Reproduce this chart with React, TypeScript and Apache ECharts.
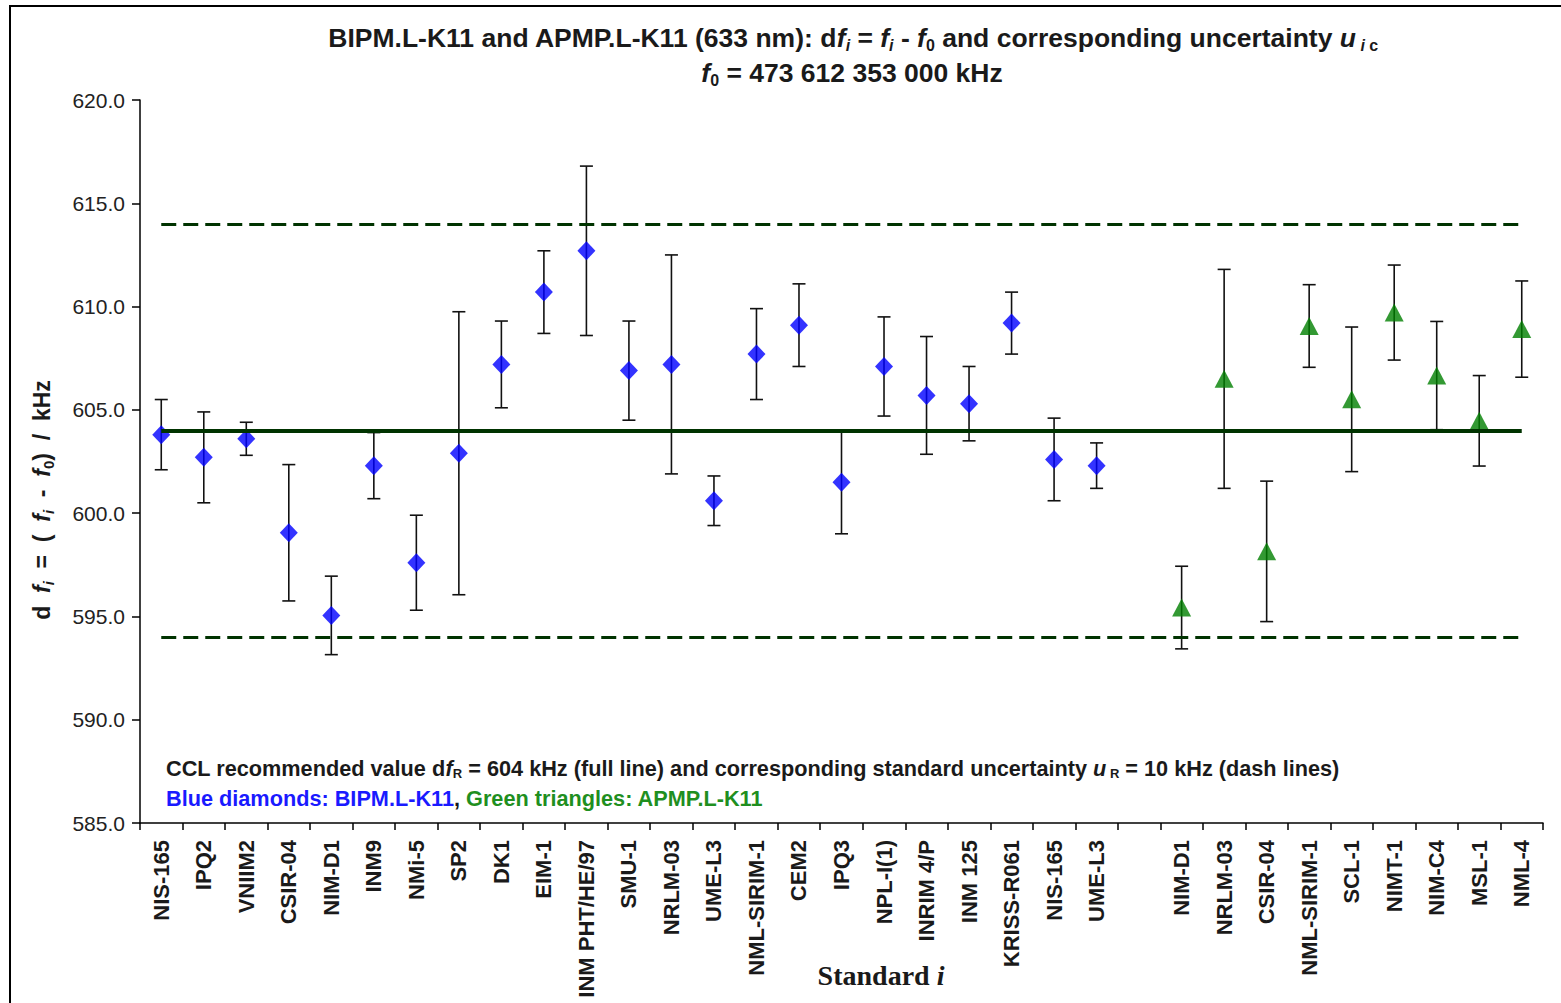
import React, { useEffect, useRef } from 'react';
import * as echarts from 'echarts';

// BIPM.L-K11 (blue diamonds)
const bipmLabels = [
  'NIS-165', 'IPQ2', 'VNIIM2', 'CSIR-04', 'NIM-D1', 'INM9', 'NMi-5', 'SP2', 'DK1', 'EIM-1',
  'INM PHT/HE/97', 'SMU-1', 'NRLM-03', 'UME-L3', 'NML-SIRIM-1', 'CEM2', 'IPQ3', 'NPL-I(1)',
  'INRIM 4/P', 'INM 125', 'KRISS-R061', 'NIS-165', 'UME-L3',
];
const bipmValues = [
  603.8, 602.7, 603.6, 599.05, 595.05, 602.3, 597.6, 602.9, 607.2, 610.7,
  612.7, 606.9, 607.2, 600.6, 607.7, 609.1, 601.5, 607.1,
  605.7, 605.3, 609.2, 602.6, 602.3,
];
const bipmUnc = [
  1.7, 2.2, 0.8, 3.3, 1.9, 1.6, 2.3, 6.85, 2.1, 2.0,
  4.1, 2.4, 5.3, 1.2, 2.2, 2.0, 2.5, 2.4,
  2.85, 1.8, 1.5, 2.0, 1.1,
];

// APMP.L-K11 (green triangles)
const apmpLabels = ['NIM-D1', 'NRLM-03', 'CSIR-04', 'NML-SIRIM-1', 'SCL-1', 'NIMT-1', 'NIM-C4', 'MSL-1', 'NML-4'];
const apmpValues = [595.43, 606.5, 598.15, 609.06, 605.51, 609.71, 606.66, 604.47, 608.91];
const apmpUnc = [2.0, 5.3, 3.4, 2.0, 3.5, 2.3, 2.62, 2.19, 2.33];

// CCL recommended value and its standard uncertainty
const refValue = 604;
const refUnc = 10;

const yMin = 585;
const yMax = 620;
const yStep = 5;

const SANS = '"Liberation Sans", Arial, sans-serif';
const SERIF = '"Liberation Serif", "Times New Roman", serif';

function richStyles(size: number, subSize: number, subPad: number, color: string) {
  const base = { fontFamily: SANS, fontSize: size, fontWeight: 'bold' as const, fill: color, verticalAlign: 'top' as const };
  const sub = { fontFamily: SANS, fontSize: subSize, fontWeight: 'bold' as const, fill: color, verticalAlign: 'top' as const, padding: [subPad, 0, 0, 0] };
  return {
    n: base,
    i: { ...base, fontStyle: 'italic' as const },
    s: sub,
    si: { ...sub, fontStyle: 'italic' as const },
  };
}

export default function App() {
  const ref = useRef<HTMLDivElement>(null);

  useEffect(() => {
    if (!ref.current) return;
    const chart = echarts.init(ref.current, null, { renderer: 'svg' });

    const categories = [...bipmLabels, '', ...apmpLabels];
    const apmpOffset = bipmLabels.length + 1;
    const lastIdx = categories.length - 1;

    const bipmPts = bipmValues.map((v, i) => [i, v]);
    const apmpPts = apmpValues.map((v, i) => [apmpOffset + i, v]);
    const bars = [
      ...bipmValues.map((v, i) => [i, v - bipmUnc[i], v + bipmUnc[i]]),
      ...apmpValues.map((v, i) => [apmpOffset + i, v - apmpUnc[i], v + apmpUnc[i]]),
    ];

    const textColor = '#1a1a1a';

    const option: any = {
      animation: false,
      backgroundColor: '#ffffff',
      grid: { left: 140, top: 100, width: 1403, height: 723, containLabel: false },
      xAxis: {
        type: 'category',
        data: categories,
        boundaryGap: true,
        axisLine: { show: true, lineStyle: { color: '#000', width: 1.5 } },
        axisTick: { show: true, interval: 0, length: 7, lineStyle: { color: '#000', width: 1.5 } },
        axisLabel: {
          interval: 0,
          rotate: 90,
          margin: 17,
          fontFamily: SANS,
          fontSize: 22,
          fontWeight: 'bold',
          color: textColor,
        },
        splitLine: { show: false },
      },
      yAxis: {
        type: 'value',
        min: yMin,
        max: yMax,
        interval: yStep,
        axisLine: { show: true, lineStyle: { color: '#000', width: 1.5 } },
        axisTick: { show: true, length: 8, lineStyle: { color: '#000', width: 1.5 } },
        axisLabel: {
          margin: 15,
          fontFamily: SANS,
          fontSize: 21,
          color: '#222',
          formatter: (v: number) => v.toFixed(1),
        },
        splitLine: { show: false },
      },
      series: [
        {
          type: 'custom',
          name: 'uncertainty',
          z: 2,
          silent: true,
          data: bars,
          encode: { x: 0, y: [1, 2] },
          renderItem: (params: any, api: any) => {
            const x = api.value(0);
            const lo = api.value(1);
            const hi = api.value(2);
            const pHi = api.coord([x, hi]);
            const pLo = api.coord([x, lo]);
            const hw = 6.5;
            const st = { stroke: '#111', lineWidth: 1.6 };
            return {
              type: 'group',
              children: [
                { type: 'line', shape: { x1: pHi[0], y1: pHi[1], x2: pLo[0], y2: pLo[1] }, style: st },
                { type: 'line', shape: { x1: pHi[0] - hw, y1: pHi[1], x2: pHi[0] + hw, y2: pHi[1] }, style: st },
                { type: 'line', shape: { x1: pLo[0] - hw, y1: pLo[1], x2: pLo[0] + hw, y2: pLo[1] }, style: st },
              ],
            };
          },
        },
        {
          type: 'line',
          name: 'ref',
          z: 3,
          data: [],
          silent: true,
          markLine: {
            silent: true,
            symbol: ['none', 'none'],
            label: { show: false },
            lineStyle: { color: '#003300', width: 4, type: 'solid' },
            data: [[{ coord: [0, refValue] }, { coord: [lastIdx, refValue] }]],
          },
        },
        {
          type: 'line',
          name: 'refUnc',
          z: 3,
          data: [],
          silent: true,
          markLine: {
            silent: true,
            symbol: ['none', 'none'],
            label: { show: false },
            lineStyle: { color: '#003300', width: 3, type: [15, 7] },
            data: [
              [{ coord: [0, refValue + refUnc] }, { coord: [lastIdx, refValue + refUnc] }],
              [{ coord: [0, refValue - refUnc] }, { coord: [lastIdx, refValue - refUnc] }],
            ],
          },
        },
        {
          type: 'scatter',
          name: 'BIPM.L-K11',
          z: 4,
          symbol: 'diamond',
          symbolSize: [18, 19],
          itemStyle: { color: '#0000ff' },
          data: bipmPts,
        },
        {
          type: 'scatter',
          name: 'APMP.L-K11',
          z: 4,
          symbol: 'triangle',
          symbolSize: [19, 18],
          itemStyle: { color: '#008000' },
          data: apmpPts,
        },
      ],
      graphic: [
        {
          type: 'rect',
          silent: true,
          z: -10,
          shape: { x: 10, y: 6, width: 1600, height: 1100 },
          style: { fill: 'none', stroke: '#000', lineWidth: 2 },
        },
        {
          type: 'text',
          x: 853,
          y: 24,
          style: {
            text:
              '{n|BIPM.L-K11 and APMP.L-K11 (633 nm): d}{i|f}{si|i}{n| = }{i|f}{si|i}{n| - }{i|f}{s|0}{n| and corresponding uncertainty }{i|u}{si| i}{s| c}',
            rich: richStyles(26.5, 16, 13, textColor),
            textAlign: 'center',
            align: 'center',
            textVerticalAlign: 'top',
            verticalAlign: 'top',
          },
        },
        {
          type: 'text',
          x: 852,
          y: 59,
          style: {
            text: '{i|f}{s|0}{n| = 473 612 353 000 kHz}',
            rich: richStyles(26.5, 16, 13, textColor),
            textAlign: 'center',
            align: 'center',
            textVerticalAlign: 'top',
            verticalAlign: 'top',
          },
        },
        {
          type: 'text',
          x: 30,
          y: 500,
          rotation: Math.PI / 2,
          style: {
            text: '{n|d  }{i|f}{si|i}{n|  =  (  }{i|f}{si|i}{n|  -  }{i|f}{s|0}{n|)  /  kHz}',
            rich: richStyles(23, 15, 11, textColor),
            textAlign: 'center',
            align: 'center',
            textVerticalAlign: 'top',
            verticalAlign: 'top',
          },
        },
        {
          type: 'text',
          x: 166,
          y: 757,
          style: {
            text:
              '{n|CCL recommended value d}{i|f}{s|R}{n| = 604 kHz (full line) and corresponding standard uncertainty }{i|u}{s| R}{n| = 10 kHz (dash lines)}',
            rich: richStyles(21.7, 13, 10, textColor),
            textAlign: 'left',
            align: 'left',
            textVerticalAlign: 'top',
            verticalAlign: 'top',
          },
        },
        {
          type: 'text',
          x: 166,
          y: 787,
          style: {
            text: '{b|Blue diamonds: BIPM.L-K11}{k|, }{g|Green triangles: APMP.L-K11}',
            rich: {
              b: { fontFamily: SANS, fontSize: 21.7, fontWeight: 'bold', fill: '#1a1aff' },
              k: { fontFamily: SANS, fontSize: 21.7, fontWeight: 'bold', fill: textColor },
              g: { fontFamily: SANS, fontSize: 21.7, fontWeight: 'bold', fill: '#1f8f1f' },
            },
            textAlign: 'left',
            align: 'left',
            textVerticalAlign: 'top',
            verticalAlign: 'top',
          },
        },
        {
          type: 'text',
          x: 881,
          y: 975,
          style: {
            text: '{a|Standard }{b|i}',
            rich: {
              a: { fontFamily: SERIF, fontSize: 28, fontWeight: 'bold', fill: textColor },
              b: { fontFamily: SERIF, fontSize: 28, fontWeight: 'bold', fontStyle: 'italic', fill: textColor },
            },
            textAlign: 'center',
            align: 'center',
            textVerticalAlign: 'middle',
            verticalAlign: 'middle',
          },
        },
      ],
    };

    chart.setOption(option);
    return () => {
      chart.dispose();
    };
  }, []);

  return (
    <div
      ref={ref}
      style={{ position: 'fixed', left: 0, top: 0, width: 1561, height: 1003, background: '#fff' }}
    />
  );
}
